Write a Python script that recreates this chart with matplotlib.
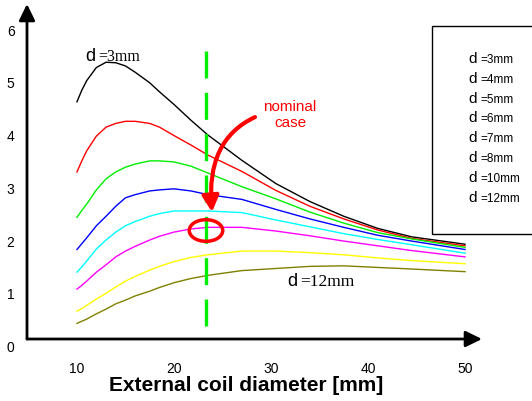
import matplotlib
matplotlib.use("Agg")
import matplotlib.pyplot as plt
from matplotlib.patches import Ellipse, Rectangle

# ---- data ----
diam = [10, 10.5, 11, 12, 13, 14, 15, 16, 17.5, 18.5, 20, 21.75, 23.5, 27, 30.5, 34, 37.5, 41, 44.5, 50]
labels = ["d =3mm", "d =4mm", "d =5mm", "d =6mm", "d =7mm", "d =8mm", "d =10mm", "d =12mm"]
colors = ["#000000", "#ff0000", "#00ee00", "#0000ff", "#00ffff", "#ff00ff", "#ffff00", "#808000"]
d3 = [4.62, 4.84, 5.02, 5.27, 5.37, 5.36, 5.30, 5.18, 4.98, 4.81, 4.57, 4.27, 3.99, 3.51, 3.07, 2.73, 2.45, 2.22, 2.06, 1.92]
d4 = [3.29, 3.50, 3.69, 3.97, 4.14, 4.21, 4.25, 4.25, 4.21, 4.14, 3.98, 3.80, 3.61, 3.30, 2.94, 2.64, 2.40, 2.19, 2.03, 1.89]
d5 = [2.43, 2.56, 2.68, 2.95, 3.16, 3.29, 3.38, 3.44, 3.50, 3.50, 3.48, 3.40, 3.27, 3.01, 2.78, 2.53, 2.32, 2.14, 2.02, 1.86]
d6 = [1.82, 1.93, 2.04, 2.27, 2.45, 2.64, 2.80, 2.86, 2.93, 2.95, 2.97, 2.93, 2.86, 2.77, 2.58, 2.40, 2.24, 2.09, 1.98, 1.82]
d7 = [1.39, 1.49, 1.60, 1.83, 2.00, 2.15, 2.27, 2.35, 2.45, 2.50, 2.55, 2.55, 2.55, 2.52, 2.38, 2.25, 2.12, 2.01, 1.91, 1.75]
d8 = [1.07, 1.14, 1.22, 1.39, 1.53, 1.68, 1.79, 1.88, 2.00, 2.07, 2.15, 2.21, 2.24, 2.24, 2.17, 2.08, 1.98, 1.89, 1.80, 1.68]
d10 = [0.65, 0.70, 0.76, 0.88, 0.99, 1.11, 1.22, 1.31, 1.43, 1.50, 1.59, 1.67, 1.72, 1.79, 1.79, 1.76, 1.72, 1.66, 1.61, 1.55]
d12 = [0.42, 0.46, 0.50, 0.60, 0.69, 0.79, 0.86, 0.94, 1.03, 1.10, 1.19, 1.27, 1.33, 1.42, 1.46, 1.50, 1.51, 1.48, 1.45, 1.40]
series = [d3, d4, d5, d6, d7, d8, d10, d12]
xticks = [10, 20, 30, 40, 50]
yticks = [0, 1, 2, 3, 4, 5, 6]
nominal_x = 23.35
xlabel = "External coil diameter [mm]"
note = "nominal\ncase"

W, H = 532, 402
fig = plt.figure(figsize=(W / 100, H / 100), dpi=100)
plt.rcParams["font.family"] = ["Liberation Sans", "DejaVu Sans"]


def fp(px, py):
    return (px / W, 1 - py / H)


ax = fig.add_axes([27 / W, (H - 346.5) / H, (482 - 27) / W, (346.5 - 5) / H])
ax.set_xlim(4.85, 51.75)
ax.set_ylim(0, 6.474)
for s in ax.spines.values():
    s.set_visible(False)
ax.set_xticks(xticks)
ax.set_yticks(yticks)
ax.tick_params(length=0, labelsize=10)
ax.tick_params(axis="x", pad=11)
ax.tick_params(axis="y", pad=9)
ax.set_xlabel(xlabel, fontsize=15, fontweight="bold")
ax.xaxis.label.set_va("center")
ax.xaxis.set_label_coords(0.482, -0.115)

for ys, c in zip(series, colors):
    ax.plot(diam, ys, color=c, lw=1.0, solid_joinstyle="round")

# axis arrows
arrow = dict(arrowstyle="-|>,head_length=0.45,head_width=0.22", lw=2, color="black",
             mutation_scale=22, shrinkA=0, shrinkB=0)
ax.annotate("", xy=(51.75, 0.123), xytext=(4.85, 0.123), arrowprops=arrow, annotation_clip=False)
ax.annotate("", xy=(4.85, 6.474), xytext=(4.85, 0.123), arrowprops=arrow, annotation_clip=False)

# nominal dashed line
ln, = ax.plot([nominal_x, nominal_x], [5.59, 0.35], color="#00ee00", lw=2.4)
ln.set_dashes([8.1, 4.3])

# ellipse
ax.add_patch(Ellipse((23.3, 2.18), 3.45, 0.41, fill=False, ec="#ff0000", lw=2.5, zorder=5))

# curved red arrow
ax.annotate("", xy=(23.92, 2.53), xytext=(28.35, 4.33),
            arrowprops=dict(arrowstyle="-|>,head_length=0.95,head_width=0.5", lw=3,
                            color="#ff0000", mutation_scale=10, shrinkA=0, shrinkB=0,
                            connectionstyle="angle3,angleA=25,angleB=95",
                            capstyle="round"), zorder=6)
ax.text(31.96, 4.39, note, color="#ff0000", fontsize=11, ha="center", va="center",
        linespacing=1.25)

# curve labels
for lab, (px, py, size) in zip([labels[0], labels[-1]], [(85, 60.7, 11.5), (287, 285.7, 12.5)]):
    dpart, rest = lab.split(" ", 1)
    fig.text(*fp(px, py), dpart, fontsize=13, va="baseline", ha="left")
    fig.text(*fp(px + 13, py), rest, fontsize=size, va="baseline", ha="left",
             family=["Liberation Serif", "DejaVu Serif"])

# legend box (text only)
fig.add_artist(Rectangle(fp(432, 235), (545 - 432) / W, (235 - 27.3) / H,
                         transform=fig.transFigure, fill=False, ec="black", lw=1))
for i, lab in enumerate(labels):
    dpart, rest = lab.split(" ", 1)
    base = 63 + i * 19.8
    fig.text(*fp(468, base), dpart, fontsize=11, va="baseline", ha="left")
    fig.text(*fp(480.5, base), rest, fontsize=8.5, va="baseline", ha="left")

fig.savefig("out.png", dpi=100)
